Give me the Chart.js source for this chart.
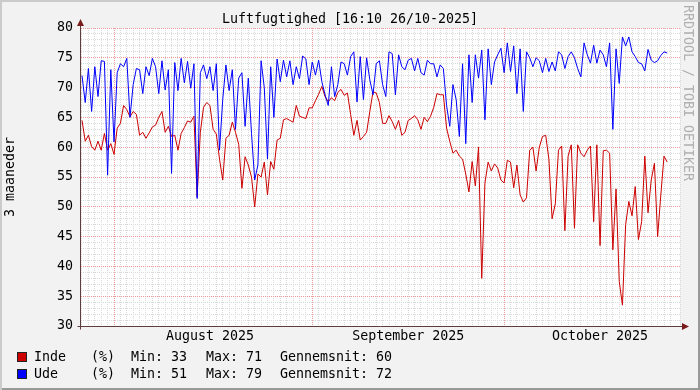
<!DOCTYPE html>
<html>
<head>
<meta charset="utf-8">
<title>Luftfugtighed</title>
<script src="https://cdn.jsdelivr.net/npm/chart.js@4.4.1/dist/chart.umd.min.js"></script>
<style>
  body { margin: 0; background: #f2f2f2; }
  #wrap { position: relative; width: 700px; height: 390px; background: #f2f2f2; overflow: hidden;
          font-family: 'DejaVu Sans Mono', monospace; font-size: 13.3px; color: #000; }
  #wrap canvas { position: absolute; left: 0; top: 0; }
  #frame { position: absolute; left: 0; top: 0; width: 700px; height: 390px; pointer-events: none;
           box-shadow: inset 2px 2px 0 #cbcbcb, inset -2px -2px 0 #999999; }
  #title { position: absolute; left: 0; top: 10px; width: 700px; text-align: center; line-height: 18px; }
  #legend span { position: absolute; line-height: 16px; white-space: pre; }
  #legend i { position: absolute; width: 8px; height: 8px; border: 1px solid #222; }
  #mark { position: absolute; left: 681px; top: 5px; writing-mode: vertical-rl; line-height: 14px; color: #b0b0b0; }
</style>
</head>
<body>
<div id="wrap">
  <canvas id="chart" width="700" height="390"></canvas>
  <div id="title">Luftfugtighed [16:10 26/10-2025]</div>
  <div id="legend"></div>
  <div id="mark">RRDTOOL / TOBI OETIKER</div>
  <div id="frame"></div>
</div>
<script>
// samples every 12 hours, day 0 = 1 Aug 2025
const startDay = -5;
const stepDays = 0.5;

const indeValues = [
  64.5, 61.0, 62.0, 60.1, 59.5, 61.0, 59.5, 62.3, 59.5, 60.6,
  58.8, 63.2, 64.0, 67.0, 66.3, 65.1, 66.0, 65.5, 62.0, 62.5,
  61.5, 62.4, 63.4, 63.7, 65.0, 66.0, 62.5, 63.5, 61.8, 62.0,
  59.5, 62.3, 63.3, 64.4, 64.2, 65.2, 51.7, 62.5, 66.7, 67.5,
  67.0, 63.0, 62.2, 58.0, 54.5, 61.5, 62.0, 64.2, 62.5, 60.5,
  53.1, 58.4, 57.0, 55.0, 50.0, 55.5, 55.0, 57.5, 52.0, 57.6,
  56.3, 61.2, 61.5, 64.6, 64.8, 64.5, 64.2, 67.0, 65.2, 65.0,
  64.8, 66.6, 66.6, 67.8, 68.9, 70.2, 68.5, 67.6, 68.3, 67.8,
  69.2, 69.7, 68.7, 69.1, 65.5, 62.0, 64.5, 61.2, 61.8, 62.5,
  66.0, 69.3, 69.1, 67.5, 64.0, 64.0, 65.3, 64.3, 63.0, 64.5,
  62.0, 62.5, 64.5, 64.8, 65.3, 64.6, 63.0, 65.0, 64.3, 65.2,
  66.7, 69.0, 68.8, 68.8, 63.2, 61.0, 59.0, 59.5, 58.5, 58.0,
  55.5, 52.5, 57.6, 53.5, 60.0, 38.0, 54.0, 57.5, 56.0, 57.2,
  56.5, 54.5, 54.0, 57.8, 57.5, 53.2, 57.0, 52.0, 50.8, 51.5,
  59.5, 60.0, 56.0, 60.0, 61.8, 62.0, 58.0, 48.0, 50.5, 59.5,
  60.2, 46.0, 58.5, 60.4, 46.4, 60.4, 59.0, 58.4, 59.5, 60.2,
  47.5, 60.4, 43.5, 59.4, 59.5, 59.0, 42.8, 53.0, 37.5, 33.5,
  47.0, 50.9, 48.5, 53.4, 44.5, 47.5, 58.5, 49.0, 54.5, 57.3,
  45.0, 52.0, 58.5, 57.5
];

const udeValues = [
  72.0, 67.5, 73.2, 66.0, 73.5, 68.5, 74.5, 74.4, 55.3, 73.0,
  60.9, 72.5, 74.0, 73.5, 74.9, 65.0, 70.5, 73.2, 73.0, 69.0,
  73.5, 72.0, 74.9, 73.5, 69.0, 74.5, 69.6, 73.0, 55.6, 74.2,
  69.5, 74.9, 70.8, 74.4, 69.9, 74.0, 51.4, 72.5, 73.8, 71.5,
  73.5, 69.5, 74.0, 59.5, 68.0, 73.8, 69.5, 73.0, 63.0, 71.6,
  72.5, 63.5, 71.6, 62.3, 54.5, 57.0, 74.5, 70.0, 58.0, 73.5,
  65.0, 74.8, 71.0, 74.6, 71.8, 74.5, 70.5, 73.5, 71.5, 75.3,
  74.8, 70.5, 74.3, 72.1, 74.6, 71.0, 68.8, 67.0, 73.5, 68.5,
  70.5, 74.3, 74.0, 72.1, 75.2, 76.0, 67.6, 75.2, 68.0, 75.0,
  71.3, 68.8, 74.0, 74.5, 70.5, 68.5, 76.0, 75.7, 68.8, 75.5,
  73.5, 73.0, 74.6, 74.9, 72.8, 74.9, 72.5, 72.1, 74.6, 74.0,
  74.0, 71.8, 73.8, 73.2, 67.0, 63.5, 70.5, 68.0, 61.8, 74.0,
  60.6, 75.5, 67.5, 75.5, 71.6, 76.3, 64.6, 76.5, 70.5, 74.3,
  75.5, 76.6, 72.5, 77.5, 72.7, 77.0, 69.0, 76.5, 66.0, 76.0,
  75.0, 73.5, 75.0, 74.5, 72.5, 74.9, 72.7, 74.3, 72.8, 76.0,
  75.5, 73.2, 75.2, 76.0, 75.0, 73.2, 71.8, 77.5, 75.5, 74.1,
  77.1, 74.1, 76.3, 75.5, 73.5, 77.5, 63.0, 76.5, 70.7, 78.5,
  77.0, 78.5, 76.0, 75.2, 74.2, 74.0, 72.8, 76.4, 74.6, 74.2,
  74.5, 75.4, 76.0, 75.8
];

const seriesNames = ['Inde', 'Ude'];
const seriesColors = ['#cc0000', '#0000ff'];
const seriesMin = [33, 51];
const seriesMax = [71, 79];
const seriesAvg = [60, 72];

const monthLabels = ['August 2025', 'September 2025', 'October 2025'];
const monthStarts = [0, 31, 61];
const monthLabelDays = [15, 46, 76];

const MONO = "'DejaVu Sans Mono', monospace";
const MAJOR = '#eb9a9a';
const MINOR = '#d9d9d9';

function toPoints(values) {
  return values.map((v, i) => ({ x: startDay + i * stepDays, y: v }));
}

// legend in rrdtool style
const legend = document.getElementById('legend');
const cols = [34, 91, 131, 206, 280];
seriesNames.forEach((name, r) => {
  const top = 349 + r * 17;
  const box = document.createElement('i');
  box.style.left = '17px';
  box.style.top = (top + 3) + 'px';
  box.style.background = seriesColors[r];
  legend.appendChild(box);
  const parts = [name, '(%)', 'Min: ' + seriesMin[r], 'Max: ' + seriesMax[r], 'Gennemsnit: ' + seriesAvg[r]];
  parts.forEach((t, k) => {
    const s = document.createElement('span');
    s.textContent = t;
    s.style.left = cols[k] + 'px';
    s.style.top = top + 'px';
    legend.appendChild(s);
  });
});

const rrdFrame = {
  id: 'rrdFrame',
  beforeDraw(chart) {
    const { ctx, chartArea: a } = chart;
    ctx.save();
    ctx.fillStyle = '#ffffff';
    ctx.fillRect(a.left, a.top, a.right - a.left, a.bottom - a.top);
    ctx.restore();
  },
  afterDatasetsDraw(chart) {
    const { ctx, chartArea: a } = chart;
    const x0 = a.left - 0.5;
    const y0 = a.bottom + 0.5;
    ctx.save();
    ctx.strokeStyle = '#5e3c3c';
    ctx.lineWidth = 1;
    ctx.beginPath();
    ctx.moveTo(x0, y0 + 3);
    ctx.lineTo(x0, a.top - 4);
    ctx.moveTo(x0 - 3, y0);
    ctx.lineTo(a.right + 4, y0);
    ctx.stroke();
    ctx.fillStyle = '#7a1c1c';
    ctx.beginPath();
    ctx.moveTo(x0, a.top - 9);
    ctx.lineTo(x0 - 3.5, a.top - 2);
    ctx.lineTo(x0 + 3.5, a.top - 2);
    ctx.closePath();
    ctx.fill();
    ctx.beginPath();
    ctx.moveTo(a.right + 9, y0);
    ctx.lineTo(a.right + 2, y0 - 3.5);
    ctx.lineTo(a.right + 2, y0 + 3.5);
    ctx.closePath();
    ctx.fill();
    ctx.restore();
  }
};

const ctx = document.getElementById('chart').getContext('2d');

const data = {
  datasets: [
    {
      label: seriesNames[0],
      data: toPoints(indeValues),
      borderColor: seriesColors[0],
      order: 1
    },
    {
      label: seriesNames[1],
      data: toPoints(udeValues),
      borderColor: seriesColors[1],
      order: 0
    }
  ]
};

const config = {
  type: 'line',
  data: data,
  options: {
    responsive: false,
    animation: false,
    devicePixelRatio: 1,
    layout: { padding: { top: 28, right: 20, bottom: 0, left: 0 } },
    elements: {
      point: { radius: 0 },
      line: { borderWidth: 1, tension: 0, fill: false }
    },
    plugins: {
      legend: { display: false },
      tooltip: { enabled: false }
    },
    scales: {
      x: {
        type: 'linear',
        min: -5.16,
        max: 88.5,
        afterFit: (s) => { s.height = 64; },
        border: { display: false, dash: [1, 1] },
        grid: {
          drawTicks: false,
          color: (c) => (c.tick && monthStarts.includes(c.tick.value)) ? MAJOR : MINOR
        },
        ticks: {
          stepSize: 1,
          autoSkip: false,
          maxRotation: 0,
          minRotation: 0,
          padding: 3,
          color: '#000',
          font: { family: MONO, size: 13.3 },
          callback: (v) => {
            const k = monthLabelDays.indexOf(v);
            return k >= 0 ? monthLabels[k] : '';
          }
        }
      },
      y: {
        min: 30,
        max: 80,
        afterFit: (s) => { s.width = 81; },
        border: { display: false, dash: [1, 1] },
        grid: {
          drawTicks: false,
          color: (c) => (c.tick && c.tick.value % 5 === 0) ? MAJOR : MINOR
        },
        ticks: {
          stepSize: 1,
          maxTicksLimit: 1000,
          autoSkip: false,
          padding: 8,
          color: '#000',
          font: { family: MONO, size: 13.3 },
          callback: (v) => (v % 5 === 0 ? String(v) : '')
        },
        title: {
          display: true,
          text: '3 maaneder',
          color: '#000',
          font: { family: MONO, size: 13.3 },
          padding: { top: 3, bottom: 0 }
        }
      }
    }
  },
  plugins: [rrdFrame]
};

const myChart = new Chart(ctx, config);
</script>
</body>
</html>
